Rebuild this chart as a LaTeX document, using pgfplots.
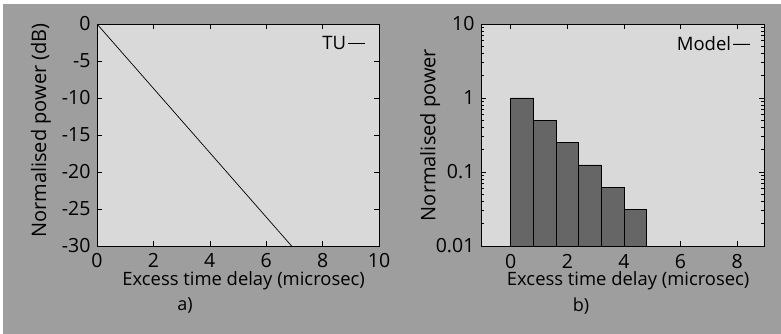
\documentclass[border=0pt]{standalone}
\usepackage{pgfplots}
\pgfplotsset{compat=1.18}
\usepackage{fontspec}
\setmainfont{Open Sans}
\definecolor{outerbg}{gray}{0.62}
\definecolor{innerbg}{gray}{0.85}
\definecolor{barfill}{gray}{0.40}
\begin{document}
\begin{tikzpicture}
\fill[white] (0pt,0pt) rectangle (781pt,334pt);
\fill[outerbg] (3pt,0pt) rectangle (781pt,330pt);
\pgfplotsset{every axis/.append style={
  scale only axis, height=222pt,
  axis background/.style={fill=innerbg},
  axis line style={black, line width=0.8pt},
  tick align=inside, tick style={black, line width=0.6pt},
  major tick length=5pt, minor tick length=3pt,
  font=\fontsize{19.5}{23}\selectfont,
  /pgf/number format/assume math mode=true,
  xticklabel style={anchor=base, yshift=-22pt},
  yticklabel style={xshift=-3pt},
  xlabel style={anchor=base, at={(axis description cs:0.52,-0.18)}, font=\fontsize{18.4}{22}\selectfont},
  legend plot pos=right,
  legend style={draw=none, fill=none, at={(1,1)}, anchor=north east,
     xshift=-10pt, yshift=-8pt, font=\fontsize{18.5}{22}\selectfont},
  legend image code/.code={\draw[black, line width=0.7pt] (0pt,0pt) -- (17pt,0pt);},
}}
\begin{axis}[
  at={(97pt,88pt)}, anchor=south west, width=282pt,
  xmin=0, xmax=10, ymin=-30, ymax=0,
  xtick={0,2,...,10}, ytick={-30,-25,...,0},
  xlabel={Excess time delay (microsec)},
  ylabel={Normalised power (dB)},
  ylabel style={anchor=center, at={(axis description cs:-0.199,0.52)}, font=\fontsize{20}{24}\selectfont},
]
\addplot[black, line width=0.7pt] coordinates {(0,0) (6.9,-30)};
\addlegendentry{TU}
\end{axis}
\begin{axis}[
  at={(481pt,88pt)}, anchor=south west, width=283pt,
  ymode=log, log origin=infty,
  xmin=-1.05, xmax=8.95, ymin=0.01, ymax=10,
  xtick={0,2,...,8}, ytick={0.01,0.1,1,10},
  yticklabels={0.01,0.1,1,10},
  xlabel={Excess time delay (microsec)},
  ylabel={Normalised power},
  ylabel style={anchor=center, at={(axis description cs:-0.18,0.5)}, font=\fontsize{20}{24}\selectfont},
]
\addplot[ybar, bar width=0.8, bar shift=0pt, fill=barfill, draw=black, line width=0.6pt]
  coordinates {(0.4,1) (1.2,0.5) (2.0,0.25) (2.8,0.125) (3.6,0.0625) (4.4,0.0315)};
\addlegendentry{Model}
\end{axis}
\node[font=\fontsize{18}{22}\selectfont] at (185pt,28pt) {a)};
\node[font=\fontsize{18}{22}\selectfont] at (581pt,28pt) {b)};
\end{tikzpicture}
\end{document}
